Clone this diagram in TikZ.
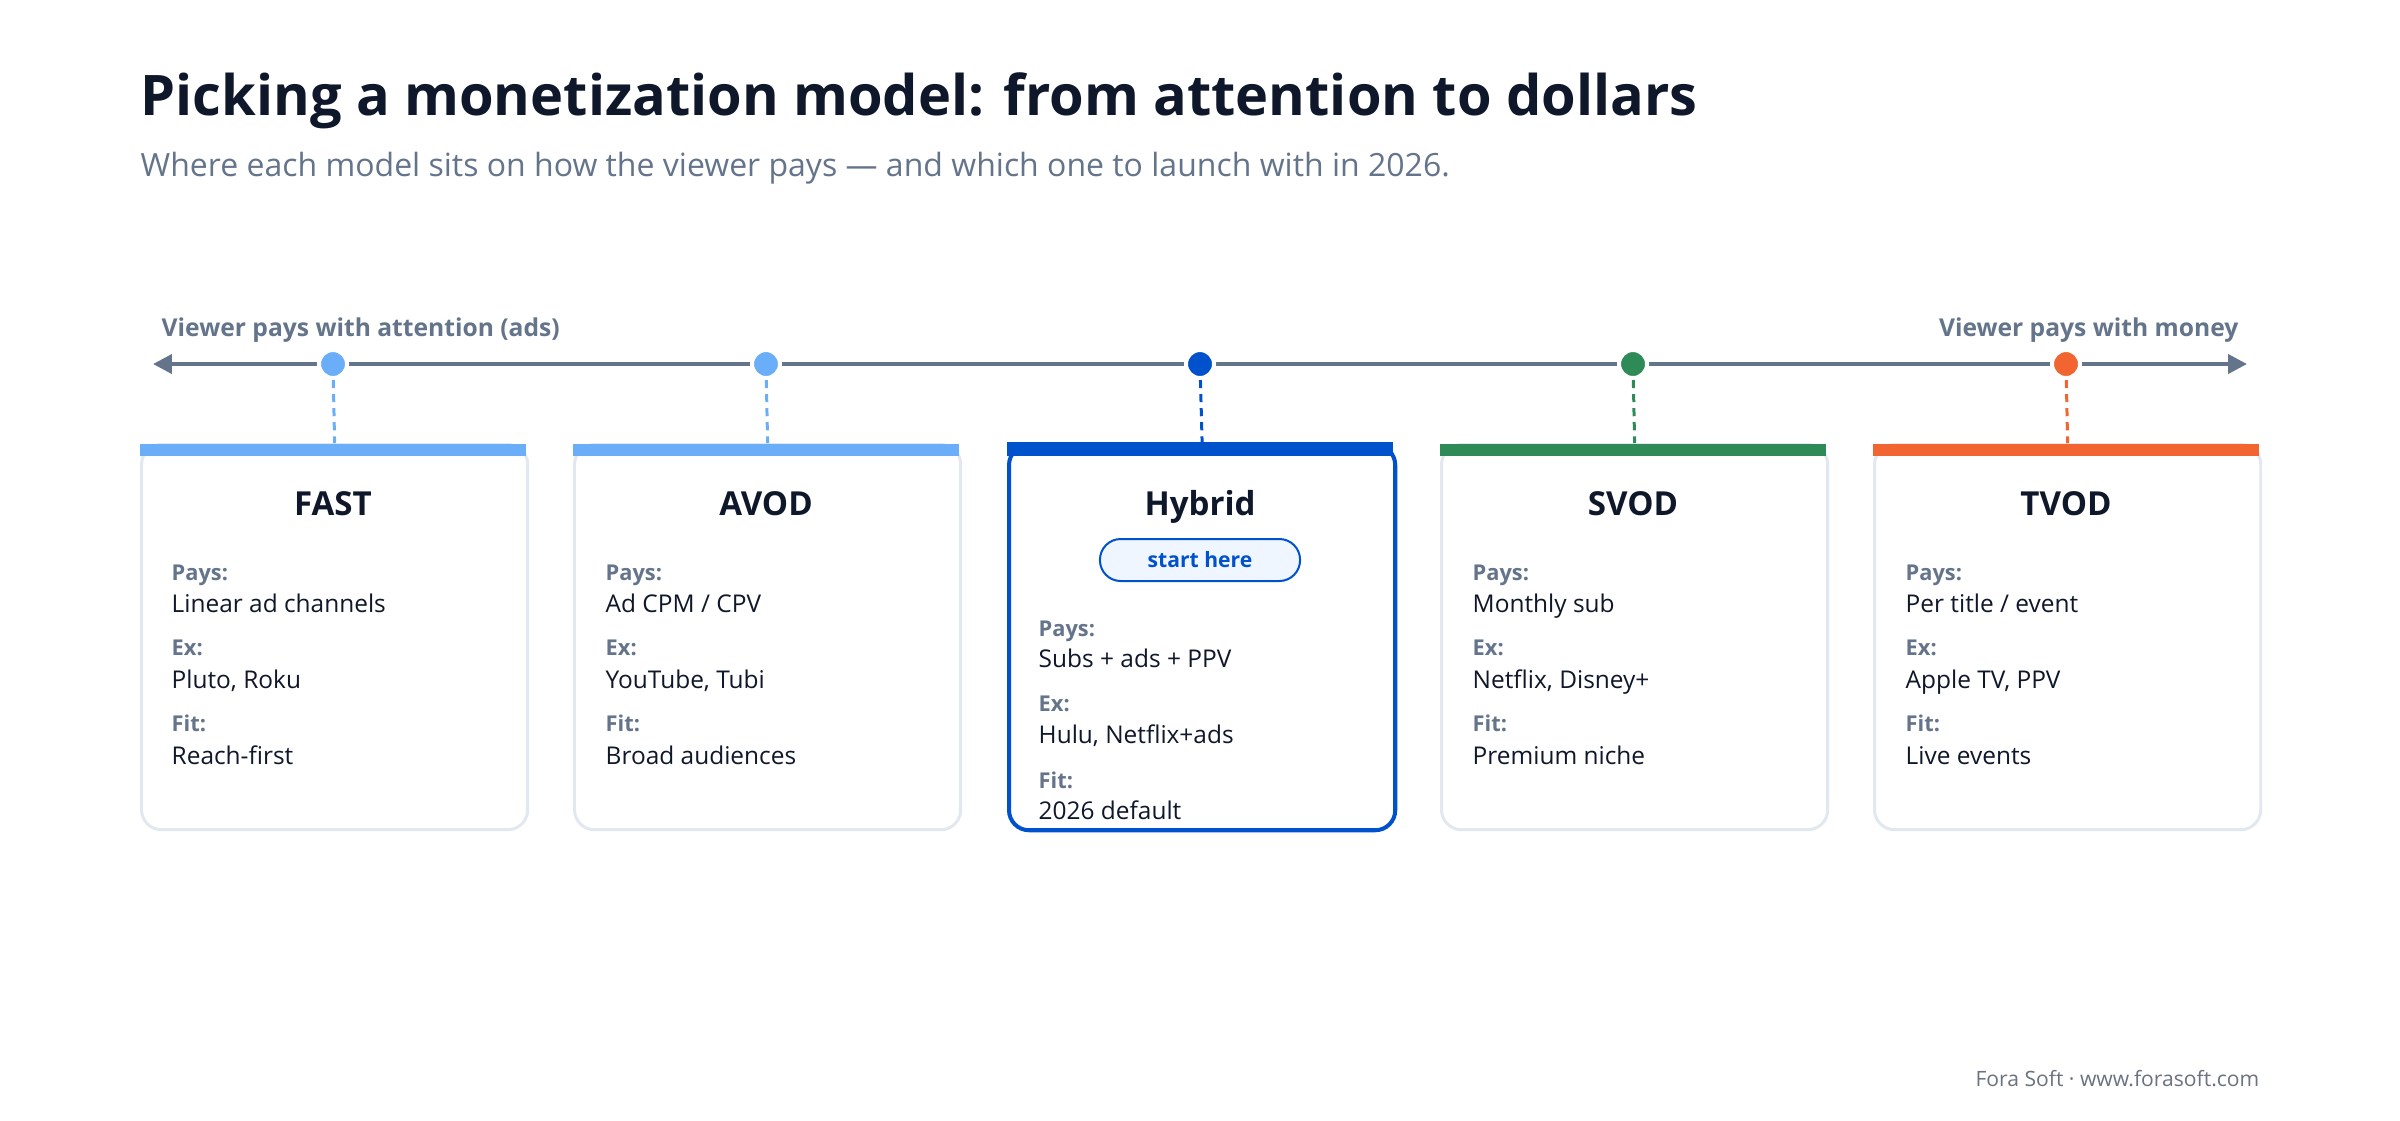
\documentclass[tikz,border=0pt]{standalone}
\usepackage{fontspec}
\setmainfont{Open Sans}
\usetikzlibrary{arrows.meta}
\definecolor{ink}{HTML}{0F172A}
\definecolor{slate}{HTML}{64748B}
\definecolor{edge}{HTML}{E2E8F0}
\definecolor{adblue}{HTML}{6AADF8}
\definecolor{hybblue}{HTML}{0052CC}
\definecolor{subgreen}{HTML}{2E8B57}
\definecolor{tvorange}{HTML}{F26430}
\definecolor{pillfill}{HTML}{EFF6FF}
\definecolor{foot}{HTML}{6B7280}

\begin{document}
\begin{tikzpicture}[x=0.01cm, y=-0.01cm,
  card/.style={draw=edge, line width=0.85pt, rounded corners=5.7pt, fill=white, minimum width=3.86cm, minimum height=3.85cm, inner sep=0pt, anchor=north west},
  dot/.style={circle, draw=white, line width=1.14pt, minimum size=0.28cm, inner sep=0pt},
  link/.style={line width=0.85pt, dash pattern=on 2.3pt off 1.7pt},
  modelname/.style={font=\bfseries\fontsize{9.4pt}{11pt}\selectfont, text=ink, anchor=base, inner sep=0pt},
  lbl/.style={font=\bfseries\fontsize{6.2pt}{7pt}\selectfont, text=slate, anchor=base west, inner sep=0pt},
  val/.style={font=\fontsize{6.95pt}{8pt}\selectfont, text=ink, anchor=base west, inner sep=0pt}]
\fill[white] (0,0) rectangle (2400,1120);
\useasboundingbox (0,0) rectangle (2400,1120);

% heading
\node[anchor=base west, inner sep=0pt, text=ink, font=\bfseries\fontsize{15.9pt}{19pt}\selectfont] (title) at (140,115) {Picking a monetization model: from attention to dollars};
\node[anchor=base west, inner sep=0pt, text=slate, font=\fontsize{9.1pt}{11pt}\selectfont] (subtitle) at (140,176) {Where each model sits on how the viewer pays — and which one to launch with in 2026.};

% axis
\coordinate (axl) at (153,364);
\coordinate (axr) at (2247,364);
\draw[slate, line width=1.14pt, {Triangle[length=5.4pt, width=5.4pt]}-{Triangle[length=5.4pt, width=5.4pt]}] (axl) -- (axr);
\node[anchor=base west, inner sep=0pt, text=slate, font=\bfseries\fontsize{7pt}{8pt}\selectfont] (attn) at (161,336) {Viewer pays with attention (ads)};
\node[anchor=base east, inner sep=0pt, text=slate, font=\bfseries\fontsize{7pt}{8pt}\selectfont] (money) at (2239,336) {Viewer pays with money};

% cards
\node[card] (cfast) at (140,443) {};
\node[card] (cavod) at (573,443) {};
\node[card, draw=hybblue, line width=1.14pt] (chyb) at (1007,443) {};
\node[card] (csvod) at (1440,443) {};
\node[card] (ctvod) at (1873,443) {};
\fill[adblue] (140,444) rectangle (526,456);
\fill[adblue] (573,444) rectangle (959,456);
\fill[hybblue] (1007,442) rectangle (1393,456);
\fill[subgreen] (1440,444) rectangle (1826,456);
\fill[tvorange] (1873,444) rectangle (2259,456);

% dots on the axis
\node[dot, fill=adblue] (dfast) at (333,364) {};
\node[dot, fill=adblue] (davod) at (766,364) {};
\node[dot, fill=hybblue] (dhyb) at (1200,364) {};
\node[dot, fill=subgreen] (dsvod) at (1633,364) {};
\node[dot, fill=tvorange] (dtvod) at (2066,364) {};
\draw[link, adblue] (dfast) -- (cfast.north);
\draw[link, adblue] (davod) -- (cavod.north);
\draw[link, hybblue] (dhyb) -- (chyb.north);
\draw[link, subgreen] (dsvod) -- (csvod.north);
\draw[link, tvorange] (dtvod) -- (ctvod.north);

% FAST
\node[modelname] (nfast) at (333,515) {FAST};
\node[lbl] at (171,580) {Pays:};
\node[val] at (171,612) {Linear ad channels};
\node[lbl] at (171,655) {Ex:};
\node[val] at (171,688) {Pluto, Roku};
\node[lbl] at (171,731) {Fit:};
\node[val] at (171,764) {Reach-first};

% AVOD
\node[modelname] (navod) at (766,515) {AVOD};
\node[lbl] at (605,580) {Pays:};
\node[val] at (605,612) {Ad CPM / CPV};
\node[lbl] at (605,655) {Ex:};
\node[val] at (605,688) {YouTube, Tubi};
\node[lbl] at (605,731) {Fit:};
\node[val] at (605,764) {Broad audiences};

% Hybrid
\node[modelname] (nhyb) at (1200,515) {Hybrid};
\node[draw=hybblue, line width=0.57pt, fill=pillfill, rounded corners=5.9pt, minimum width=2cm, minimum height=0.42cm, inner sep=0pt, text=hybblue, font=\bfseries\fontsize{6pt}{7pt}\selectfont] (start) at (1200,560) {start here};
\node[lbl] at (1038,636) {Pays:};
\node[val] at (1038,667) {Subs + ads + PPV};
\node[lbl] at (1038,711) {Ex:};
\node[val] at (1038,743) {Hulu, Netflix+ads};
\node[lbl] at (1038,788) {Fit:};
\node[val] at (1038,819) {2026 default};

% SVOD
\node[modelname] (nsvod) at (1633,515) {SVOD};
\node[lbl] at (1472,580) {Pays:};
\node[val] at (1472,612) {Monthly sub};
\node[lbl] at (1472,655) {Ex:};
\node[val] at (1472,688) {Netflix, Disney+};
\node[lbl] at (1472,731) {Fit:};
\node[val] at (1472,764) {Premium niche};

% TVOD
\node[modelname] (ntvod) at (2066,515) {TVOD};
\node[lbl] at (1905,580) {Pays:};
\node[val] at (1905,612) {Per title / event};
\node[lbl] at (1905,655) {Ex:};
\node[val] at (1905,688) {Apple TV, PPV};
\node[lbl] at (1905,731) {Fit:};
\node[val] at (1905,764) {Live events};

\node[anchor=base east, inner sep=0pt, text=foot, font=\fontsize{6pt}{7pt}\selectfont] (credit) at (2260,1086) {Fora Soft · www.forasoft.com};
\end{tikzpicture}
\end{document}
